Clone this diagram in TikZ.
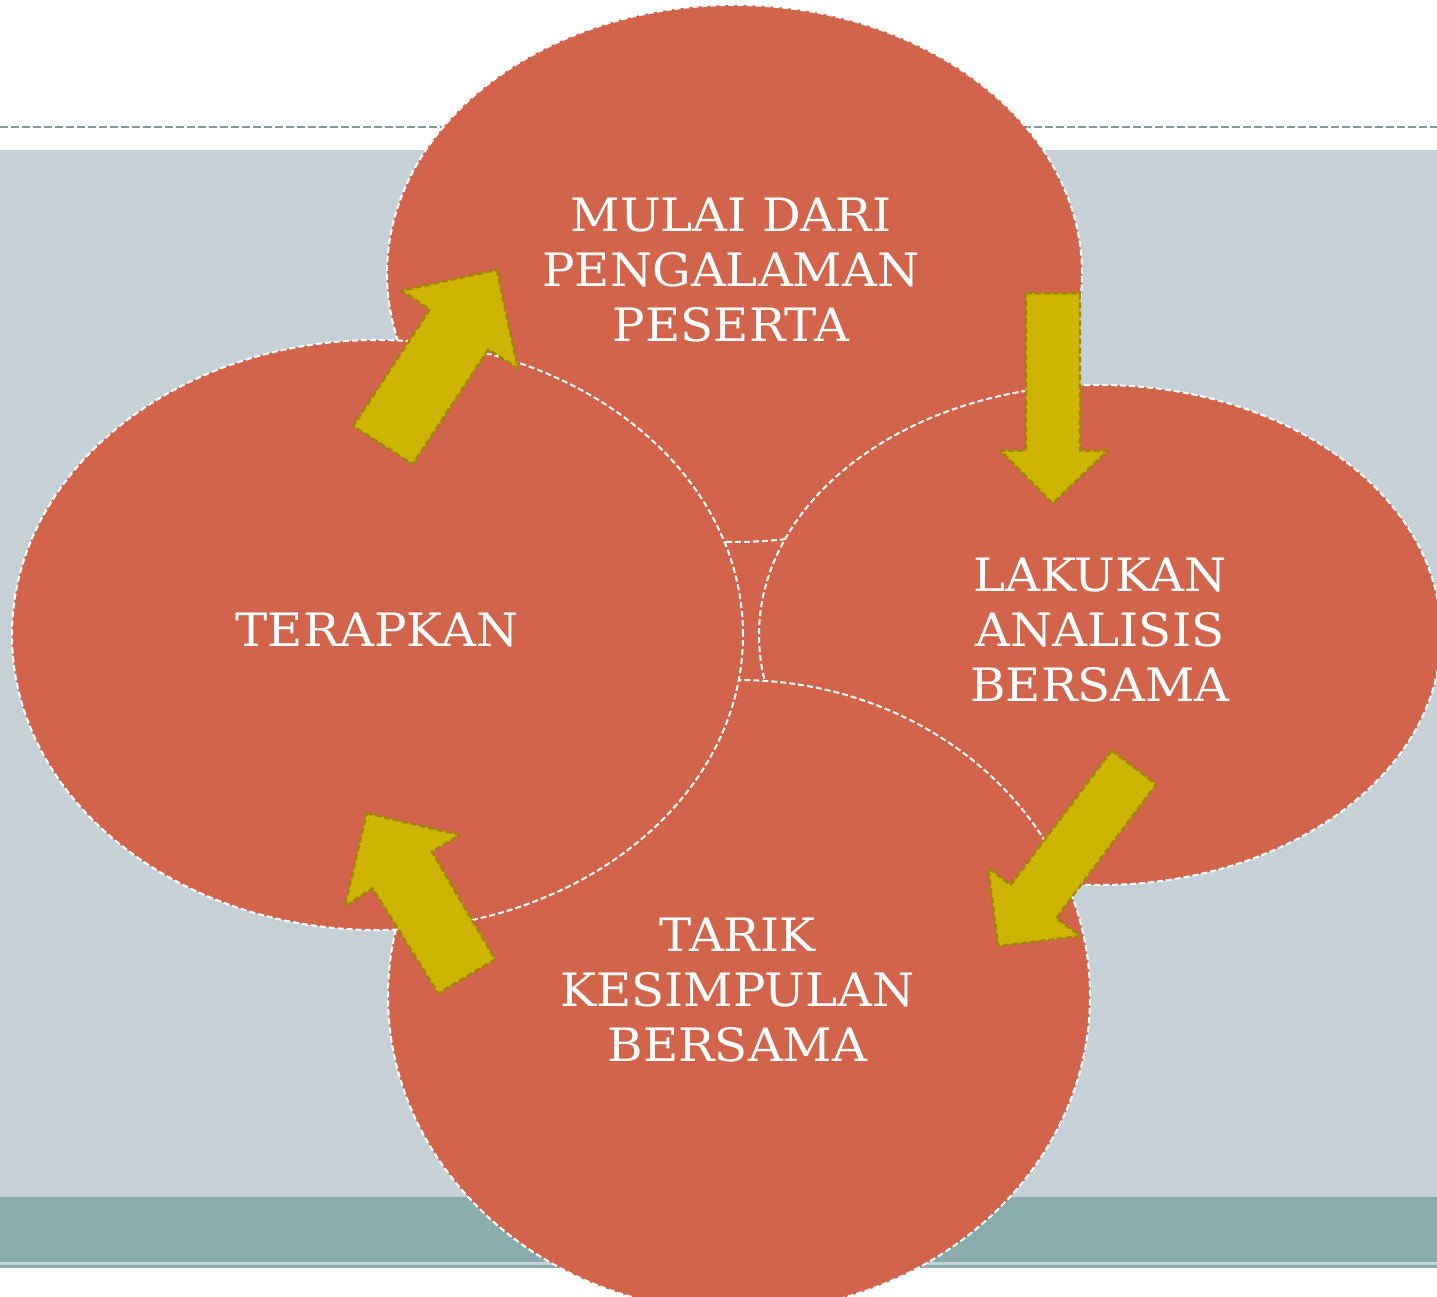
\documentclass[tikz,border=0pt]{standalone}
\usepackage{fontspec}
\newfontfamily\labelfont{DejaVu Serif}[FakeStretch=1.05]
\usetikzlibrary{shapes.geometric}
\definecolor{bgblue}{HTML}{C5D1D7}
\definecolor{tealband}{HTML}{8AACAD}
\definecolor{dashline}{HTML}{809C9C}
\definecolor{blob}{HTML}{D1644A}
\definecolor{arrowfill}{HTML}{CCB400}
\definecolor{arrowline}{HTML}{9B8A00}
\tikzset{
  blobshape/.style={ellipse, fill=blob, draw=white, line width=2pt,
    dash pattern=on 6pt off 3pt, inner sep=0pt},
  blobtext/.style={text=white, align=center, inner sep=0pt,
    font=\labelfont\fontsize{46}{55}\selectfont},
  blockarrow/.style={fill=arrowfill, draw=arrowline, line width=2.2pt,
    dash pattern=on 6pt off 3pt, line join=miter}
}
\begin{document}
\begin{tikzpicture}[x=1pt,y=-1pt]
\useasboundingbox (0,0) rectangle (1437,1297);
\clip (0,0) rectangle (1437,1297);
% background
\fill[white] (0,0) rectangle (1437,1297);
\fill[bgblue] (0,150) rectangle (1437,1197);
\fill[tealband] (0,1197) rectangle (1437,1262);
\fill[bgblue] (0,1262) rectangle (1437,1265);
\fill[tealband] (0,1265) rectangle (1437,1268);
\draw[dashline, line width=2pt, dash pattern=on 8pt off 3pt] (0,127) -- (1437,127);
% central gap
\fill[blob] (715,530) rectangle (795,695);
% circles
\node[blobshape, minimum width=695pt, minimum height=537pt] (top) at (734.5,273.5) {};
\node[blobshape, minimum width=682pt, minimum height=500pt] (right) at (1100,635) {};
\node[blobshape, minimum width=702pt, minimum height=632pt] (bottom) at (739,996) {};
\node[blobshape, minimum width=731pt, minimum height=590pt] (left) at (377.5,635) {};
% texts
\node[blobtext] (ttop) at (731,270) {MULAI DARI\\PENGALAMAN\\PESERTA};
\node[blobtext] (tleft) at (377,630) {TERAPKAN};
\node[blobtext] (tright) at (1100,630) {LAKUKAN\\ANALISIS\\BERSAMA};
\node[blobtext] (tbottom) at (737.5,990) {TARIK\\KESIMPULAN\\BERSAMA};
% arrows
\filldraw[blockarrow] (496.7,270) -- (517.7,368.3) -- (488.3,349.3) -- (412.7,464)
  -- (353.3,426) -- (430,309.3) -- (401.7,290.7) -- cycle;
\filldraw[blockarrow] (1026,293.3) -- (1080,293.3) -- (1080,450.7) -- (1107.3,450.7)
  -- (1052.7,503.3) -- (1000.7,450.7) -- (1026,450.7) -- cycle;
\filldraw[blockarrow] (1111.7,750.7) -- (1156,784.3) -- (1056,918.3) -- (1080,936)
  -- (998.3,946) -- (988.3,868.3) -- (1010.7,885) -- cycle;
\filldraw[blockarrow] (366.7,813.3) -- (459.3,835) -- (431.7,851.7) -- (495,959.3)
  -- (438.3,993.3) -- (372.7,888.3) -- (345,906) -- cycle;
\end{tikzpicture}
\end{document}
